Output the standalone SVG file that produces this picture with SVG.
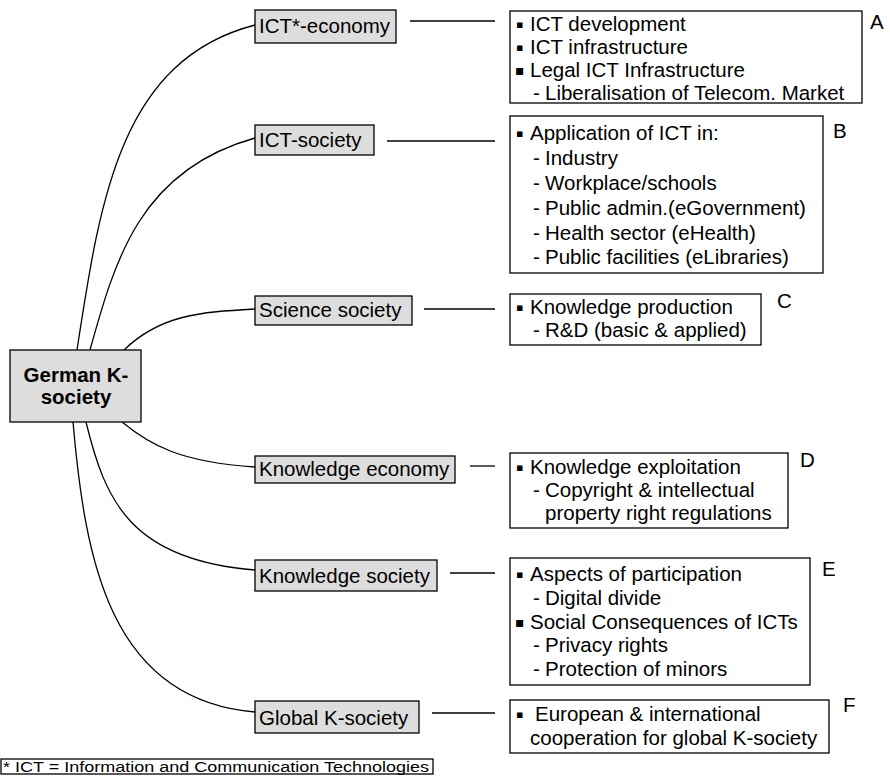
<svg xmlns="http://www.w3.org/2000/svg" width="890" height="781" viewBox="0 0 890 781">
<style>
text{font-family:"Liberation Sans",Arial,sans-serif;font-size:20.5px;fill:#000}
.bul{font-family:"DejaVu Sans",sans-serif;font-size:11px}
.bul2{font-family:"DejaVu Sans",sans-serif;font-size:14px}
.box{fill:#fff;stroke:#000;stroke-width:1.3}
.node{fill:#dddddd;stroke:#000;stroke-width:1.3}
.conn path,.conn line{fill:none;stroke:#000;stroke-width:1.3}
.ctr{font-weight:bold;text-anchor:middle}
.foot{font-size:14px}
</style>
<rect width="890" height="781" fill="#fff"/>
<g class="conn" id="connectors">
<path d="M77,350 C100,200 120,60 255,25"/>
<path d="M90,350 C115,260 140,170 255,138"/>
<path d="M124,350 C160,315 200,312 255,309"/>
<path d="M122,422 C150,445 180,462 255,467"/>
<path d="M86,422 C105,500 130,560 255,570"/>
<path d="M73,422 C85,560 110,700 255,712"/>
<line x1="410" y1="21" x2="495" y2="21"/>
<line x1="387" y1="141" x2="495" y2="141"/>
<line x1="424" y1="309" x2="495" y2="309"/>
<line x1="470" y1="466" x2="495" y2="466"/>
<line x1="450" y1="573" x2="495" y2="573"/>
<line x1="432" y1="713" x2="495" y2="713"/>
</g>
<g id="center">
<rect class="node" x="10" y="350" width="131" height="72"/>
<text class="ctr" x="76" y="382">German K-</text>
<text class="ctr" x="76" y="404">society</text>
</g>
<g id="n-ict-economy">
<rect class="node" x="255" y="10" width="141" height="33"/>
<text x="259" y="33">ICT*-economy</text>
</g>
<g id="n-ict-society">
<rect class="node" x="255" y="125" width="119" height="30"/>
<text x="259" y="147">ICT-society</text>
</g>
<g id="n-science">
<rect class="node" x="255" y="296" width="157" height="29"/>
<text x="259" y="317">Science society</text>
</g>
<g id="n-k-economy">
<rect class="node" x="255" y="456" width="200" height="27"/>
<text x="259" y="476">Knowledge economy</text>
</g>
<g id="n-k-society">
<rect class="node" x="255" y="560" width="182" height="31"/>
<text x="259" y="583">Knowledge society</text>
</g>
<g id="n-global">
<rect class="node" x="255" y="701" width="164" height="32"/>
<text x="259" y="725">Global K-society</text>
</g>
<g id="box-a">
<rect class="box" x="510" y="11" width="352" height="92"/>
<text class="bul" x="516" y="28">▪</text><text x="530" y="31">ICT development</text>
<text class="bul" x="516" y="51">▪</text><text x="530" y="54">ICT infrastructure</text>
<text class="bul2" x="515" y="75">▪</text><text x="530" y="77">Legal ICT Infrastructure</text>
<text x="533" y="100">-</text><text x="545" y="100">Liberalisation of Telecom. Market</text>
<text x="870" y="29">A</text>
</g>
<g id="box-b">
<rect class="box" x="510" y="116" width="313" height="157"/>
<text class="bul" x="516" y="137">▪</text><text x="530" y="140">Application of ICT in:</text>
<text x="533" y="165">-</text><text x="545" y="165">Industry</text>
<text x="533" y="190">-</text><text x="545" y="190">Workplace/schools</text>
<text x="533" y="215">-</text><text x="545" y="215">Public admin.(eGovernment)</text>
<text x="533" y="240">-</text><text x="545" y="240">Health sector (eHealth)</text>
<text x="533" y="264">-</text><text x="545" y="264">Public facilities (eLibraries)</text>
<text x="833" y="138">B</text>
</g>
<g id="box-c">
<rect class="box" x="510" y="294" width="251" height="51"/>
<text class="bul" x="516" y="311">▪</text><text x="530" y="314">Knowledge production</text>
<text x="533" y="337">-</text><text x="545" y="337">R&amp;D (basic &amp; applied)</text>
<text x="777" y="308">C</text>
</g>
<g id="box-d">
<rect class="box" x="510" y="453" width="278" height="75"/>
<text class="bul" x="516" y="471">▪</text><text x="530" y="474">Knowledge exploitation</text>
<text x="533" y="497">-</text><text x="545" y="497">Copyright &amp; intellectual</text>
<text x="545" y="520">property right regulations</text>
<text x="800" y="467">D</text>
</g>
<g id="box-e">
<rect class="box" x="510" y="558" width="300" height="127"/>
<text class="bul" x="516" y="578">▪</text><text x="530" y="581">Aspects of participation</text>
<text x="533" y="605">-</text><text x="545" y="605">Digital divide</text>
<text class="bul2" x="515" y="627">▪</text><text x="530" y="629">Social Consequences of ICTs</text>
<text x="533" y="652">-</text><text x="545" y="652">Privacy rights</text>
<text x="533" y="676">-</text><text x="545" y="676">Protection of minors</text>
<text x="822" y="576">E</text>
</g>
<g id="box-f">
<rect class="box" x="510" y="700" width="319" height="53"/>
<text class="bul" x="516" y="718">▪</text><text x="535" y="721">European &amp; international</text>
<text x="530" y="745">cooperation for global K-society</text>
<text x="843" y="712">F</text>
</g>
<g id="footnote">
<rect class="box" x="1" y="759" width="432" height="15" stroke-width="1"/>
<text class="foot" x="3" y="772" textLength="426" lengthAdjust="spacingAndGlyphs">* ICT = Information and Communication Technologies</text>
</g>
</svg>
